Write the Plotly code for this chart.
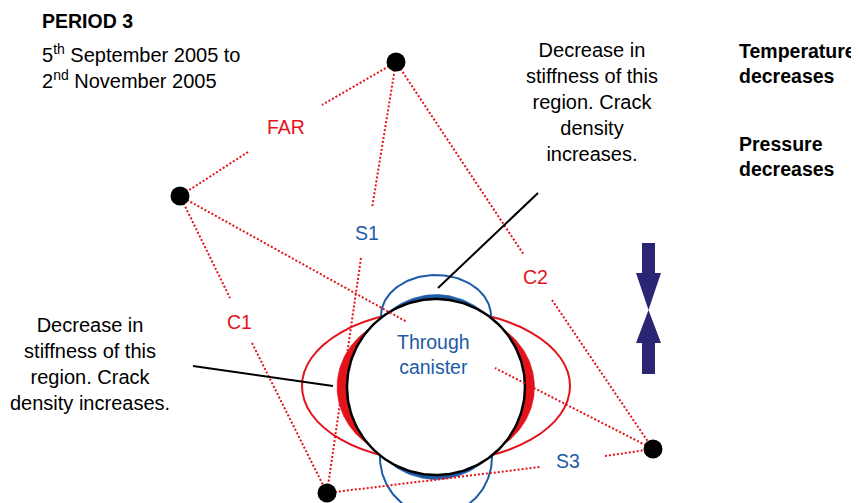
import numpy as np
import plotly.graph_objects as go

W, H = 859, 503
PAGE_OFFSET = 8  # default browser body margin
RED = "#E3131B"
BLUE = "#1D5BA6"
NAVY = "#2B2673"
FONT = "Liberation Sans, Arial, sans-serif"

# Sensor / node positions (pixel space)
node_names = ["top", "left", "bottom", "right"]
node_x = [396, 180, 327, 653]
node_y = [62, 196, 493, 449]

# Path labels
path_labels = ["FAR", "S1", "C2", "C1", "S3"]
path_label_x = [286, 367, 535, 239, 568]
path_label_y = [127, 233, 277, 322, 461]
path_label_colors = [RED, BLUE, RED, RED, BLUE]

# Dotted red measurement paths (segments, broken around labels)
seg_x0 = [396, 248, 396, 361, 396, 552, 180, 252, 327, 605, 180, 653]
seg_y0 = [62, 152, 62, 258, 62, 300, 196, 343, 493, 456, 196, 449]
seg_x1 = [322, 180, 372, 327, 524, 653, 230, 327, 540, 653, 407, 495]
seg_y1 = [105, 196, 208, 493, 255, 449, 298, 493, 467, 449, 322, 368]

# Canister geometry
cx, cy, Rx, Ry = 436, 387, 89, 88
red_ell = (134, 76)          # horizontal (C-direction) deformation outline
blue_top = (55, 41, 316)     # rx, ry, centre-y of upper lobe
blue_bot = (56, 58, 457)     # rx, ry, centre-y of lower lobe

fig = go.Figure()

shapes = []
# red ellipse (behind the canister)
shapes.append(dict(type="circle", xref="x", yref="y", layer="below", x0=cx - red_ell[0], x1=cx + red_ell[0],
                   y0=cy - 1 - red_ell[1], y1=cy - 1 + red_ell[1], line=dict(color=RED, width=2)))

# blue vertical outline (two lobes joined by hidden straight sides)
ta = np.linspace(np.pi, 0, 80)
ba = np.linspace(0, -np.pi, 80)
bx = list(cx + blue_top[0] * np.cos(ta)) + list(cx + blue_bot[0] * np.cos(ba)) + [cx - blue_top[0]]
by = list(blue_top[2] - blue_top[1] * np.sin(ta)) + list(blue_bot[2] - blue_bot[1] * np.sin(ba)) + [blue_top[2]]
fig.add_trace(go.Scatter(x=bx, y=by, mode="lines", line=dict(color=BLUE, width=2),
                         hoverinfo="skip", showlegend=False))


def crescent(center_deg, half_deg, thick):
    a = np.radians(np.linspace(center_deg - half_deg, center_deg + half_deg, 60))
    t = np.linspace(-1, 1, 60)
    off = thick * np.cos(t * np.pi / 2)
    xs = list(cx + Rx * np.cos(a)) + list(cx + (Rx + off[::-1]) * np.cos(a[::-1]))
    ys = list(cy - Ry * np.sin(a)) + list(cy - (Ry + off[::-1]) * np.sin(a[::-1]))
    return xs, ys


for deg, half, th, col in [(180, 42, 10, RED), (0, 42, 9.5, RED), (90, 35, 4.5, BLUE), (270, 35, 4.5, BLUE)]:
    xs, ys = crescent(deg, half, th)
    fig.add_trace(go.Scatter(x=xs, y=ys, fill="toself", fillcolor=col, mode="lines",
                             line=dict(color=col, width=0.5), hoverinfo="skip", showlegend=False))

# black canister circle, white filled (hides outlines inside)
ang = np.linspace(0, 2 * np.pi, 200)
fig.add_trace(go.Scatter(x=list(cx + Rx * np.cos(ang)), y=list(cy + Ry * np.sin(ang)),
                         mode="lines", fill="toself", fillcolor="white",
                         line=dict(color="black", width=2.5),
                         hoverinfo="skip", showlegend=False))

# dotted paths
for x0, y0, x1, y1 in zip(seg_x0, seg_y0, seg_x1, seg_y1):
    fig.add_trace(go.Scatter(x=[x0, x1], y=[y0, y1], mode="lines",
                             line=dict(color=RED, width=2, dash="2px,2px"),
                             hoverinfo="skip", showlegend=False))

# black pointer lines
ptr_x0 = [538, 193]
ptr_y0 = [193, 366]
ptr_x1 = [438, 333]
ptr_y1 = [288, 386]
for x0, y0, x1, y1 in zip(ptr_x0, ptr_y0, ptr_x1, ptr_y1):
    fig.add_trace(go.Scatter(x=[x0, x1], y=[y0, y1], mode="lines",
                             line=dict(color="black", width=2), hoverinfo="skip", showlegend=False))

# nodes
fig.add_trace(go.Scatter(x=node_x, y=node_y, mode="markers", text=node_names,
                         marker=dict(color="black", size=19), hoverinfo="text", showlegend=False))

# pressure arrows
ax, ax_half_shaft, ax_half_head = 648.5, 6.5, 12.5
ay_top, ay_head1, ay_tip, ay_head2, ay_bot = 243, 273, 310, 343, 374
pts = [(ax - ax_half_shaft, ay_top), (ax + ax_half_shaft, ay_top), (ax + ax_half_shaft, ay_head1),
       (ax + ax_half_head, ay_head1), (ax, ay_tip), (ax + ax_half_head, ay_head2),
       (ax + ax_half_shaft, ay_head2), (ax + ax_half_shaft, ay_bot), (ax - ax_half_shaft, ay_bot),
       (ax - ax_half_shaft, ay_head2), (ax - ax_half_head, ay_head2), (ax, ay_tip),
       (ax - ax_half_head, ay_head1), (ax - ax_half_shaft, ay_head1)]
path = "M " + " L ".join(f"{x},{y}" for x, y in pts) + " Z"
shapes.append(dict(type="path", xref="x", yref="y", path=path, fillcolor=NAVY, line=dict(width=0)))

annotations = []
for t, x, y, c in zip(path_labels, path_label_x, path_label_y, path_label_colors):
    annotations.append(dict(x=x, y=y, text=t, showarrow=False, font=dict(size=19.5, color=c, family=FONT)))

annotations += [
    dict(x=433, y=354, text="Through<br>canister", showarrow=False,
         font=dict(size=19.5, color=BLUE, family=FONT), align="center"),
    dict(x=40, y=21, text="<b>PERIOD 3</b>", showarrow=False, xanchor="left",
         font=dict(size=19.5, color="black", family=FONT)),
    dict(x=40, y=66, text="5<sup>th</sup> September 2005 to<br>2<sup>nd</sup> November 2005",
         showarrow=False, xanchor="left", align="left", font=dict(size=20, color="black", family=FONT)),
    dict(x=592, y=102, text="Decrease in<br>stiffness of this<br>region. Crack<br>density<br>increases.",
         showarrow=False, align="center", font=dict(size=20, color="black", family=FONT)),
    dict(x=90, y=364, text="Decrease in<br>stiffness of this<br>region. Crack<br>density increases.",
         showarrow=False, align="center", font=dict(size=20, color="black", family=FONT)),
    dict(x=737, y=63, text="<b>Temperature<br>decreases</b>", showarrow=False, xanchor="left",
         align="left", font=dict(size=19.5, color="black", family=FONT)),
    dict(x=737, y=156, text="<b>Pressure<br>decreases</b>", showarrow=False, xanchor="left",
         align="left", font=dict(size=19.5, color="black", family=FONT)),
]

# axis ranges shifted to compensate for the page's body margin
fig.update_layout(
    width=W - PAGE_OFFSET, height=H - PAGE_OFFSET, margin=dict(l=0, r=0, t=0, b=0),
    paper_bgcolor="white", plot_bgcolor="white",
    xaxis=dict(range=[PAGE_OFFSET, W], visible=False, fixedrange=True),
    yaxis=dict(range=[H, PAGE_OFFSET], visible=False, fixedrange=True),
    shapes=shapes, annotations=annotations, showlegend=False,
)

fig.write_html("out.html")
